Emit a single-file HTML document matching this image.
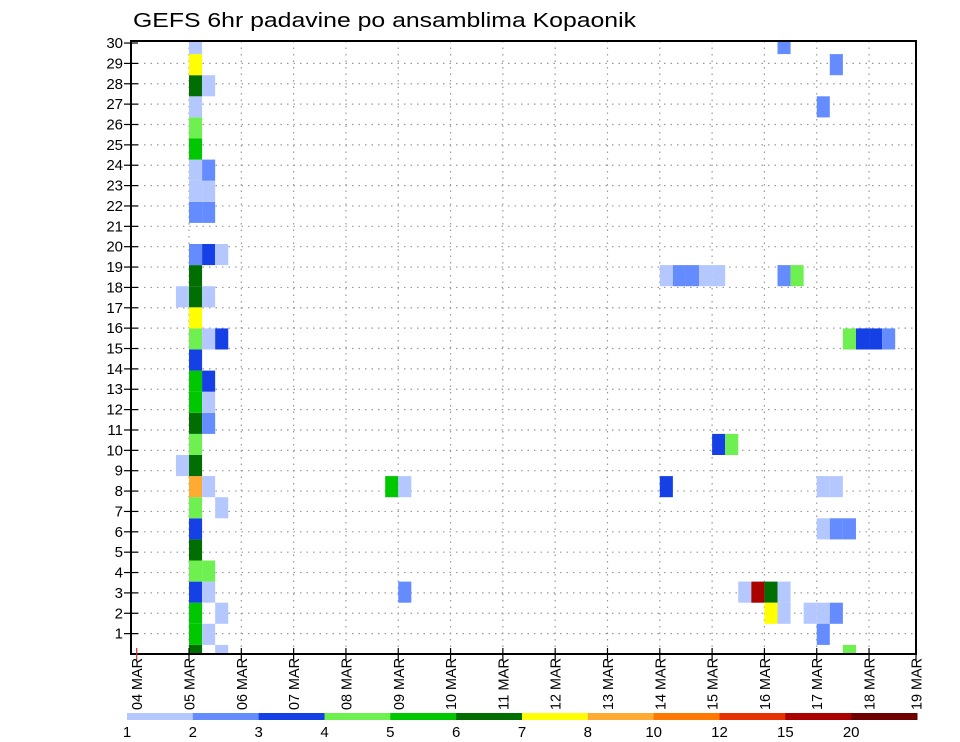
<!DOCTYPE html>
<html><head><meta charset="utf-8">
<style>
html,body{margin:0;padding:0;background:#fff;}
svg{display:block;font-family:"Liberation Sans",sans-serif;}
</style></head>
<body>
<svg id="chart" width="960" height="742" viewBox="0 0 960 742" xmlns="http://www.w3.org/2000/svg">
<rect x="0" y="0" width="960" height="742" fill="#fff"/>
<text x="133" y="27" font-size="20" textLength="503" lengthAdjust="spacingAndGlyphs" fill="#000">GEFS 6hr padavine po ansamblima Kopaonik</text>
<g id="grid"></g>
<g id="cells"></g>
<g id="axes"></g>
<g id="colorbar"></g>
</svg>
<script>
// Data: 6-hour step index (from 04 MAR 00Z), ensemble member cell index, colour class
const stepIdx   = [4,4,4,4,4,4,4,4,4,4,4,4,4,4,4,4,4,4,4,4,4,4,4,4,4,4,4,4,4,
  5,5,5,5,5,5,5,5,5,5,5,5,5,5,
  6,6,6,6,6,
  3,3,
  19,20,20,
  40,41,42,43,44,40,44,45,
  46,47,48,48,49,49,49,49,50,
  51,52,52,52,52,52,53,53,53,53,54,54,54,55,56,57];
const memberIdx = [0,1,2,3,4,5,6,7,8,9,10,11,12,13,14,15,16,17,18,19,21,22,23,24,25,26,27,28,29,
  1,3,4,8,11,12,13,15,17,19,21,22,23,27,
  0,2,7,15,19,
  9,17,
  8,8,3,
  18,18,18,18,18,8,10,10,
  3,3,3,2,3,2,18,29,18,
  2,2,1,6,8,26,2,6,8,28,6,0,15,15,15,15];
const levelIdx  = [6,5,5,3,4,6,3,4,8,6,4,6,5,5,3,4,7,6,6,2,2,1,1,5,4,1,6,7,1,
  1,1,4,1,2,1,3,1,1,3,2,1,2,1,
  1,1,1,3,1,
  1,1,
  5,1,2,
  1,2,2,1,1,3,3,4,
  1,11,6,7,1,1,2,2,4,
  1,1,2,1,1,2,2,2,1,2,2,4,4,3,3,2];
const levelColors = ["#b4c8ff","#648cff","#1440e6","#6ef050","#00c800","#006e00","#ffff00","#ffaa32","#ff7800","#e63200","#aa0000","#6e0000"];
const levelLabels = ["1","2","3","4","5","6","7","8","10","12","15","20"];
const dayLabels = ["04 MAR","05 MAR","06 MAR","07 MAR","08 MAR","09 MAR","10 MAR","11 MAR","12 MAR","13 MAR","14 MAR","15 MAR","16 MAR","17 MAR","18 MAR","19 MAR"];
const memberTicks = [1,2,3,4,5,6,7,8,9,10,11,12,13,14,15,16,17,18,19,20,21,22,23,24,25,26,27,28,29,30];

const NS="http://www.w3.org/2000/svg";
const L=131,R=916,T=41,B=654;
const DAY=52.31, X0=136.7;
function xDay(d){return X0+d*DAY;}
function xStep(i){return X0+i*DAY/4;}
function yTick(k){return B-k*(B-T)/30.1;}
const CELLH=21.1, CELL0=666;
function yCellBottom(j){return CELL0-j*CELLH;}
function mk(tag,attrs,parent){const e=document.createElementNS(NS,tag);for(const k in attrs)e.setAttribute(k,attrs[k]);parent.appendChild(e);return e;}

const grid=document.getElementById('grid');
for(const k of memberTicks){ if(k>=30) continue;
  const y=yTick(k);
  const l=mk('line',{x1:L,x2:R,y1:y,y2:y,stroke:'#999','stroke-width':1.2,'stroke-dasharray':'1.5 5'},grid);
  
  
}
for(let d=1;d<dayLabels.length-1;d++){
  const x=xDay(d);
  const l=mk('line',{x1:x,x2:x,y1:T,y2:B,stroke:'#999','stroke-width':1.2,'stroke-dasharray':'1.5 5'},grid);
  
  
}

const cells=document.getElementById('cells');
const clip=mk('clipPath',{id:'plotclip'},cells);
mk('rect',{x:L,y:T,width:R-L,height:B-T},clip);
const cg=mk('g',{'clip-path':'url(#plotclip)'},cells);
for(let n=0;n<stepIdx.length;n++){
  const x1=xStep(stepIdx[n]),x2=xStep(stepIdx[n]+1);
  const yb=yCellBottom(memberIdx[n]),yt=yCellBottom(memberIdx[n]+1);
  const r=mk('rect',{x:x1,y:yt,width:x2-x1,height:yb-yt,fill:levelColors[levelIdx[n]-1]},cg);
  
  
}

const axes=document.getElementById('axes');
const fr=mk('rect',{x:L,y:T,width:R-L,height:B-T,fill:'none',stroke:'#000','stroke-width':2},axes);


for(const k of memberTicks){
  const y=yTick(k);
  mk('line',{x1:124,x2:138,y1:y,y2:y,stroke:'#000','stroke-width':1.2},axes);
  const t=mk('text',{x:123,y:y+5,'font-size':15,'text-anchor':'end',fill:'#000'},axes);
  t.textContent=String(k);
  
  
}
for(let d=0;d<dayLabels.length;d++){
  const x=(d===dayLabels.length-1)?R:xDay(d);
  mk('line',{x1:x,x2:x,y1:B-6,y2:B+6,stroke:d===0?'#c33':'#000','stroke-width':1.2},axes);
  const t=mk('text',{x:0,y:0,'font-size':15,'text-anchor':'end',fill:'#000',textLength:52,lengthAdjust:'spacingAndGlyphs',transform:'translate('+(x+5.5)+','+(B+4)+') rotate(-90)'},axes);
  t.textContent=dayLabels[d];
  
  
}

const cb=document.getElementById('colorbar');
const CBL=127,CBR=917,CBY=713,CBH=7;
const segW=(CBR-CBL)/levelColors.length;
for(let n=0;n<levelColors.length;n++){
  const r=mk('rect',{x:CBL+n*segW,y:CBY,width:segW+0.5,height:CBH,fill:levelColors[n]},cb);
  
  
  const t=mk('text',{x:CBL+n*segW,y:737,'font-size':15,'text-anchor':'middle',fill:'#000'},cb);
  t.textContent=levelLabels[n];
  
  
}
</script>
</body></html>
